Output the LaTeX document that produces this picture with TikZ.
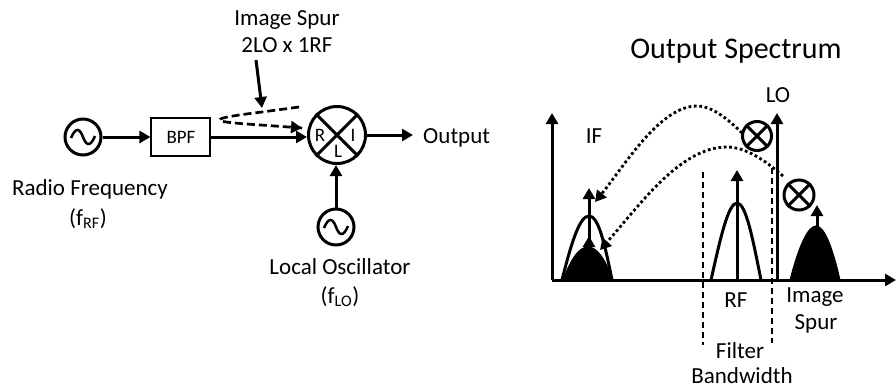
\documentclass[tikz,border=0pt]{standalone}
\usepackage{fontspec}
\setmainfont{Carlito}
\usetikzlibrary{arrows.meta,calc}
\tikzset{
  x=1pt,y=-1pt,
  wire/.style={line width=3pt,-{Triangle[length=11pt,width=12pt]}},
  dashwire/.style={line width=2.7pt,dash pattern=on 8pt off 4pt},
  dotwire/.style={line width=2.8pt,dash pattern=on 2.8pt off 2.6pt,-{Triangle[length=11pt,width=12pt]}},
  band/.style={line width=1.2pt,dash pattern=on 6pt off 4pt},
  osc/.style={circle,draw,line width=3pt,minimum size=36pt,inner sep=0pt},
  mix/.style={circle,draw,line width=3pt,inner sep=0pt},
  lbl/.style={font=\fontsize{23}{27}\selectfont,inner sep=0pt,anchor=base},
  small/.style={font=\fontsize{19}{19}\selectfont,inner sep=0pt,anchor=base},
  hump/.style={line width=3pt},
  blob/.style={fill=black,draw=black,line width=1pt},
}
\newcommand{\sinewave}[1]{%
  \draw[line width=2.5pt] ($(#1.center)+(-12,1)$) .. controls ($(#1.center)+(-7,-11)$) and ($(#1.center)+(-3,-8)$) .. (#1.center) .. controls ($(#1.center)+(3,8)$) and ($(#1.center)+(7,11)$) .. ($(#1.center)+(12,-1)$);}
\begin{document}
\begin{tikzpicture}
\useasboundingbox (0,0) rectangle (896,389);
% left block diagram
\node[osc] (rf) at (83,137) {};
\sinewave{rf}
\node[draw,line width=1.1pt,minimum width=59pt,minimum height=38pt,inner sep=0pt] (bpf) at (180.5,137) {};
\node[small] (bpft) at (181,143) {BPF};
\node[mix,minimum size=57pt] (mx) at (337,135) {};
\draw[line width=3pt] (mx.45) -- (mx.225) (mx.135) -- (mx.315);
\node[small] (mr) at (320,141) {R};
\node[small] (mi) at (353,141) {I};
\node[small] (ml) at (338,157) {L};
\node[osc] (lo) at (336,227) {};
\sinewave{lo}
\node[lbl,anchor=base west] (out) at (423,143) {Output};
\node[lbl] (rft) at (90,195) {Radio Frequency};
\node[lbl] (rfs) at (88,225) {(f\textsubscript{RF})};
\node[lbl] (lot) at (340,274) {Local Oscillator};
\node[lbl] (los) at (340,303) {(f\textsubscript{LO})};
\node[lbl] (spur1) at (287,25) {Image Spur};
\node[lbl] (spur2) at (287,52) {2LO x 1RF};
\coordinate (sa) at (256,60);
\coordinate (sb) at (262,108);
\coordinate (da) at (299,107);
\coordinate (db) at (302,128);
\draw[wire] (rf) -- (bpf);
\draw[wire] (bpf.east) -- (bpf.east -| mx.west);
\draw[wire,shorten >=10pt] (mx.east) -- (mx.east -| out.west);
\draw[wire] (lo) -- (lo |- mx.south);
\draw[wire] (sa) -- (sb);
\draw[dashwire] (da) -- (262,112) .. controls (230,116) and (219,118) .. (220,120) .. controls (221,123) and (250,124) .. (db);
\draw[wire,dash pattern=on 0pt off 100pt] (290,127) -- (db);
% spectrum
\node[inner sep=0pt,anchor=base,font=\fontsize{30}{30}\selectfont] (title) at (736,58) {Output Spectrum};
\coordinate (o) at (552,280);
\coordinate (yt) at (552,113);
\coordinate (xt) at (896,280);
\coordinate (lob) at (777,280);
\coordinate (lot2) at (777,113);
% filled humps
\draw[blob] (563,280) .. controls (572,256) and (580,247) .. (588,247) .. controls (596,247) and (604,256) .. (613,280) -- cycle;
\draw[blob] (790,280) .. controls (799,245) and (808,226) .. (816,226) .. controls (824,226) and (832,245) .. (840,280) -- cycle;
% outlined humps
\draw[hump] (562,280) .. controls (572,240) and (580,216) .. (589,216) .. controls (598,216) and (604,240) .. (612,280);
\draw[hump] (711,280) .. controls (720,240) and (728,203) .. (737,203) .. controls (746,203) and (753,240) .. (761,280);
% axes & tones
\draw[wire] (o) -- (yt);
\draw[wire] (o) -- (xt);
\draw[wire] (lob) -- (lot2);
\coordinate (ifb) at (589,280);
\coordinate (ift) at (589,188);
\coordinate (rfb) at (737,280);
\coordinate (rft2) at (737,170);
\coordinate (imb) at (817,228);
\coordinate (imt) at (817,205);
\coordinate (smb) at (589,250);
\coordinate (smt) at (589,236);
\draw[wire] (ifb) -- (ift);
\draw[wire] (rfb) -- (rft2);
\draw[wire] (imb) -- (imt);
\draw[wire] (smb) -- (smt);
% filter edges
\coordinate (fa) at (703,172);
\coordinate (fb) at (703,345);
\coordinate (fc) at (772,168);
\coordinate (fd) at (772,343);
\draw[band] (fa) -- (fb);
\draw[band] (fc) -- (fd);
% mixers
\node[mix,minimum size=29pt] (m1) at (757,136) {};
\draw[line width=3pt] (m1.45) -- (m1.225) (m1.135) -- (m1.315);
\node[mix,minimum size=30pt] (m2) at (799,195) {};
\draw[line width=3pt] (m2.45) -- (m2.225) (m2.135) -- (m2.315);
% dotted curves
\coordinate (c1) at (742,133);
\coordinate (c2) at (595,202);
\coordinate (c3) at (783,176);
\coordinate (c4) at (600,250);
\draw[dotwire] (c1) .. controls (722,113) and (708,106) .. (697,106) .. controls (660,106) and (625,165) .. (c2);
\draw[dotwire] (c3) .. controls (765,160) and (745,147) .. (727,147) .. controls (680,147) and (640,205) .. (c4);
% labels
\node[lbl] (iflab) at (594,143) {IF};
\node[lbl] (lolab) at (778,102) {LO};
\node[lbl] (rflab) at (736,307) {RF};
\node[lbl] (imlab1) at (815,302) {Image};
\node[lbl] (imlab2) at (816,329) {Spur};
\node[lbl] (fblab1) at (740,358) {Filter};
\node[lbl] (fblab2) at (742,383) {Bandwidth};
\end{tikzpicture}
\end{document}
